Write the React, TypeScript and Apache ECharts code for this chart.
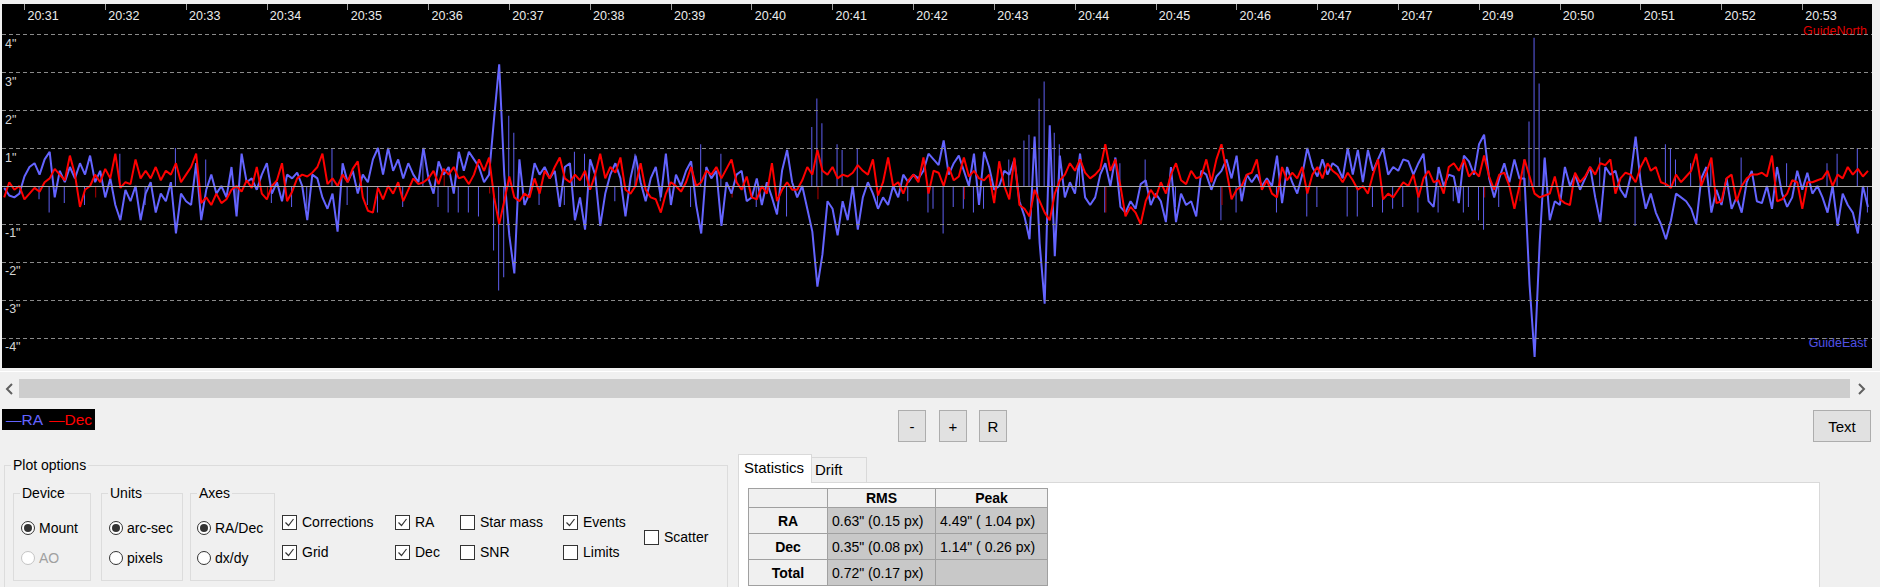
import * as echarts from "echarts";
import { useEffect, useRef } from "react";

const font = '"Liberation Sans", Arial, sans-serif';

// time labels along the top of the graph (PHD2 puts one every 16 samples)
const timeLabels = [
  "20:31", "20:32", "20:33", "20:34", "20:35", "20:36", "20:37", "20:38",
  "20:39", "20:40", "20:41", "20:42", "20:43", "20:44", "20:45", "20:46",
  "20:47", "20:47", "20:49", "20:50", "20:51", "20:52", "20:53",
];
const firstLabelSample = 4;
const samplesPerLabel = 16;

// dashed grid lines, arc-sec
const gridArcsec = [4, 3, 2, 1, -1, -2, -3, -4];

// RA offsets (arc-sec), one value per sample
const raPart1 = [
  -0.05, -0.25, -0.3, -0.2, 0.25, 0.5, 0.6, 0.3, 0.7, 0.9,
  -0.3, 0.4, 0.1, 0.5, 0.2, 0.6, 0.3, 0.8, 0.1, 0.4,
  -0.3, 0.2, -0.5, -0.9, -0.1, -0.4, 0.0, -0.9, -0.2, 0.1,
  -0.7, -0.2, -0.4, 0.1, -1.25, -0.2, -0.4, -0.5, 0.6, -0.9,
  -0.1, 0.3, -0.2, 0.0, -0.3, 0.5, -0.8, 0.85, 0.1, 0.2,
  -0.1, 0.3, 0.6, -0.2, 0.1, -0.4, 0.3, 0.2, 0.35, 0.0,
  -0.9, 0.3, 0.2, -0.3, -0.6, -0.2, -1.2, 0.6, 0.1, 0.4,
  -0.2, 0.3, 0.1, 0.7, 1.0, 0.3, 1.0, 0.4, 0.7, 0.2,
  0.6, 0.3, 0.1, 1.0, 0.2, -0.2, 0.65, 0.3, 0.5, -0.2,
  0.9, 0.4, 0.9,
];
const raPart2 = [
  0.7, 0.5, 0.1, 0.3, 1.8, 3.2, 0.3, -1.3, -2.3, 0.7,
  -0.5, -0.2, 0.6, 0.3, 0.5, 0.2, 0.4, -0.55, 0.5, 0.6,
  -0.9, -0.3, -1.15, 0.7, 0.3, -1.05, -0.2, 0.3, 0.6, 0.2,
  -0.8, 0.2, 0.8, 0.1, -0.4, 0.2, 0.5, -0.3, 0.85, -0.5,
  0.3, 0.0, 0.4, 0.65, -0.5, -1.25, 0.5, 0.2, 0.4, -1.05,
  0.1, -0.2, 0.3, 0.4, -0.4, -0.3, 0.2, -0.5, 0.1, -0.3,
  -0.75, 0.4, 0.95, 0.1, -0.3, 0.0, -0.6, -1.2, -2.65, -1.8,
  -0.4, -0.6, -1.3, -0.4, -0.9, 0.0, -1.15, -0.3, 0.1, -0.2,
  -0.6, -0.3, -0.5, 0.0, -0.3, 0.3, 0.1, 0.3, 0.2, 0.4,
  0.85, 0.7, 0.55,
];
const raPart3 = [
  1.2, 0.3, 0.6, 0.8, 0.4, 0.0, 0.85, -0.5, 0.9, 0.5,
  -0.1, 0.0, 0.4, 0.3, 0.7, -0.4, -0.8, -1.4, 1.3, -1.5,
  -3.1, 1.6, -1.85, 0.8, -0.3, 0.1, -0.2, 0.85, -0.3, -0.5,
  -0.3, 0.3, 0.6, 0.0, 0.75, -0.55, -0.7, -0.4, -0.6, 0.05,
  0.15, -0.5, -0.2, -0.4, -0.95, 0.5, -0.95, -0.2, -0.5, -0.4,
  -0.8, 0.4, 0.3, -0.1, 0.25, 0.4, 0.7, 0.2, 0.8, -0.4,
  0.3, 0.1, 0.3, 0.0, 0.2, 0.0, 0.8, -0.45, 0.5, 0.1,
  -0.2, 0.3, 1.0, 0.5, 0.25, 0.7, 0.3, 0.6, 0.5, 0.2,
  1.0, 0.3, 0.95, 0.1, 0.95, 0.4, 0.7, 1.0, 0.3, 0.5,
  0.4, 0.7, 0.65,
];
const raPart4 = [
  0.3, 0.6, 0.85, -0.4, -0.55, 0.5, 0.0, 0.3, 0.25, -0.45,
  0.8, 0.65, 0.3, 1.1, 1.35, 0.2, -0.3, 0.2, 0.6, 0.1,
  0.7, 0.2, 0.2, -2.6, -4.5, -1.5, 0.75, -0.9, -0.4, -0.5,
  0.5, 0.0, 0.3, -0.1, 0.2, 0.5, -0.3, -0.95, 0.5, 0.3,
  0.4, -0.1, -0.3, 0.25, 1.3, 0.1, -0.6, -0.2, -0.7, -1.0,
  -1.4, -0.9, -0.2, -0.3, -0.4, -0.6, -1.0, 0.2, 0.5, -0.7,
  -0.1, -0.5, 0.2, -0.6, -0.3, -0.7, 0.1, 0.4, -0.4, -0.45,
  0.0, -0.6, 0.5, -0.2, -0.55, -0.3, 0.4, -0.1, 0.35, -0.2,
  0.0, -0.3, -0.7, 0.0, -1.05, -0.2, -0.5, -0.7, -1.25, 0.0,
  -0.55,
];

// Dec offsets (arc-sec)
const decPart1 = [
  -0.3, 0.1, -0.1, 0.0, -0.35, -0.2, -0.05, -0.15, 0.1, 0.2,
  0.45, 0.3, 0.15, 0.8, 0.3, -0.55, -0.1, 0.0, 0.3, 0.1,
  0.45, 0.2, 0.85, -0.05, 0.1, 0.05, 0.7, 0.2, 0.4, 0.2,
  0.5, 0.15, 0.4, 0.3, 0.6, 0.1, 0.3, 0.5, 0.85, -0.45,
  -0.3, -0.5, -0.2, -0.45, -0.35, -0.1, 0.0, -0.15, 0.15, -0.05,
  0.5, -0.2, -0.35, 0.0, 0.15, 0.6, -0.4, -0.15, 0.2, 0.3,
  0.25, 0.35, 0.5, 0.85, 0.05, 0.2, 0.0, 0.3, 0.1, 0.45,
  0.65, -0.3, -0.65, -0.7, -0.05, -0.35, 0.0, -0.2, 0.1, -0.4,
  -0.1, 0.2, 0.05, 0.1, 0.2, 0.4, 0.05, 0.45, 0.3, 0.5,
  0.2, 0.25, 0.05,
];
const decPart2 = [
  0.3, 0.7, 0.4, 0.75, -0.3, -1.0, -0.4, 0.25, -0.3, -0.4,
  -0.2, -0.3, 0.2, -0.2, 0.4, 0.2, 0.5, 0.75, 0.2, 0.1,
  0.3, 0.15, 0.4, -0.1, 0.3, 0.85, 0.2, 0.5, 0.35, 0.75,
  -0.1, -0.2, 0.0, 0.6, -0.1, -0.3, -0.35, -0.7, -0.2, 0.1,
  0.0, -0.15, 0.1, 0.5, 0.0, 0.1, 0.4, 0.3, 0.5, 0.2,
  0.45, 0.7, 0.1, -0.1, 0.25, -0.3, -0.35, 0.0, -0.2, 0.6,
  -0.4, -0.1, 0.1, -0.1, -0.1, 0.15, 0.5, 0.3, 0.95, 0.4,
  0.3, 0.5, 0.2, 0.3, 0.25, 0.35, 0.55, 0.4, 0.3, 0.7,
  -0.25, 0.1, 0.75, 0.0, 0.1, -0.2, 0.15, 0.3, 0.1, 0.75,
  -0.2, 0.4, 0.35,
];
const decPart3 = [
  0.0, 0.5, 0.15, 0.25, 0.75, 0.25, 0.4, 0.2, 0.15, 0.3,
  -0.45, 0.65, 0.0, -0.35, 0.75, -0.5, -0.6, -0.8, -0.1, -0.4,
  -0.7, -0.9, -0.2, 0.15, 0.3, 0.6, 0.4, 0.7, 0.35, 0.2,
  0.3, 0.45, 1.1, 0.4, 0.7, 0.0, -0.8, -0.55, -0.7, -1.0,
  -0.4, -0.1, -0.3, 0.1, -0.2, 0.3, 0.6, 0.15, 0.05, 0.4,
  0.2, 0.25, 0.7, 0.1, 0.7, 1.1, 0.4, -0.35, -0.1, 0.0,
  0.3, 0.35, 0.7, -0.1, 0.15, -0.2, -0.3, 0.5, 0.15, 0.35,
  0.2, 0.5, -0.2, 0.3, 0.5, 0.2, 0.6, 0.4, 0.3, 0.1,
  0.35, 0.15, -0.1, 0.0, -0.2, 0.3, 0.7, -0.35, -0.2, -0.3,
  -0.1, 0.1, 0.0,
];
const decPart4 = [
  0.3, -0.3, 0.2, 0.4, 0.1, 0.15, -0.2, 0.5, 0.6, 0.4,
  0.7, 0.25, 0.4, 0.25, 0.8, 0.25, -0.1, 0.3, 0.35, 0.0,
  -0.6, 0.0, 0.7, 0.25, -0.2, -0.3, -0.25, -0.2, 0.25, -0.35,
  -0.45, -0.5, 0.35, 0.1, 0.25, 0.5, 0.3, 0.6, 0.55, 0.7,
  -0.2, 0.2, 0.35, 0.3, 0.1, 0.5, 0.75, 0.4, 0.5, 0.1,
  0.05, -0.05, 0.3, 0.1, 0.25, 0.4, 0.85, 0.0, 0.35, 0.75,
  -0.45, -0.4, 0.2, 0.3, -0.4, 0.0, 0.2, 0.3, 0.3, 0.35,
  0.25, 0.8, -0.4, -0.35, -0.2, 0.15, 0.1, -0.6, 0.1, 0.1,
  0.15, 0.2, 0.4, 0.0, 0.3, 0.2, 0.5, 0.3, 0.45, 0.25,
  0.4,
];

// guide pulses drawn as thin bars: [sample, arc-sec]
const raPulses = [
  [7, -0.35], [9, -0.7], [12, -0.45], [16, -0.5], [23, 0.85], [28, -0.5], [34, 1.0], [40, 0.7],
  [46, -0.5], [53, -0.45], [57, -0.55], [60, -0.6], [65, 1.0], [68, -0.5], [72, -0.5], [74, -0.7],
  [79, -0.55], [83, 1.0], [86, -0.55], [88, -0.7], [90, -0.7], [92, -0.7],
  [94, -0.8], [97, -1.7], [98, -2.75], [99, -2.4], [100, 1.85], [101, 1.4], [106, -0.5], [111, -0.5],
  [113, 0.9], [115, 0.85], [121, -0.4], [125, 0.85], [130, -0.4], [136, -0.55], [138, 1.1], [142, 0.85],
  [149, -0.55], [155, -0.8], [160, 1.55], [161, 2.3], [162, 1.65], [165, 1.1], [166, 0.95], [169, 1.0],
  [173, -0.55], [179, -0.4], [183, -0.7], [184, -0.6],
  [186, -1.25], [188, -0.55], [190, -0.6], [192, -0.7], [194, -0.6], [199, 0.7], [202, 1.2], [203, 1.35],
  [205, 2.3], [206, 2.75], [207, 1.0], [208, 1.4], [209, 1.1], [213, 0.85], [218, -0.7], [221, 0.6],
  [226, 0.7], [232, -0.55], [241, -0.9], [244, -0.7], [252, -0.7], [258, -0.8], [260, -0.55], [266, -0.8],
  [268, -0.8], [271, -0.55], [273, -0.7], [275, -0.6], [277, -0.55],
  [280, -0.7], [284, -0.7], [287, -0.4], [288, -0.45], [289, -0.7], [290, -0.55], [292, -0.9], [293, -1.15],
  [296, -0.55], [301, 0.7], [302, 1.7], [303, 3.9], [304, 2.7], [305, 0.7], [316, 0.75], [323, -1.05],
  [329, 1.1], [330, 1.0], [331, 0.7], [334, 0.6], [338, 0.7], [344, 0.75], [353, 0.6], [361, 0.6],
  [363, 0.85], [367, 1.0], [369, -0.7],
];
const decPulses = [
  [18, -0.3], [52, -0.25], [87, 0.3], [96, -0.2], [144, -0.3], [161, -0.35], [190, -0.35],
  [218, -0.7], [241, -0.5], [293, -0.3], [300, -0.4],
];

// statistics table
const statRows = [
  { name: "RA", rms: '0.63" (0.15 px)', peak: '4.49" ( 1.04 px)' },
  { name: "Dec", rms: '0.35" (0.08 px)', peak: '1.14" ( 0.26 px)' },
  { name: "Total", rms: '0.72" (0.17 px)', peak: "" },
];

const raValues = [...raPart1, ...raPart2, ...raPart3, ...raPart4];
const decValues = [...decPart1, ...decPart2, ...decPart3, ...decPart4];

function GuideChart() {
  const chartRef = useRef<HTMLDivElement>(null);

  useEffect(() => {
    const chart = echarts.init(chartRef.current, null, { renderer: "svg" });
    const tickSamples = timeLabels.map((_, k) => firstLabelSample + k * samplesPerLabel);
    const xMin = -0.44;
    const xMax = 369.8;

    const option = {
      animation: false,
      backgroundColor: "#000000",
      textStyle: { fontFamily: font },
      grid: { left: 0, right: 0, top: 0, bottom: 0 },
      xAxis: [
        { type: "value", min: xMin, max: xMax, show: false },
        {
          type: "value",
          position: "top",
          min: xMin,
          max: xMax,
          axisLine: { show: false },
          splitLine: { show: false },
          axisTick: {
            show: true,
            inside: true,
            length: 6,
            customValues: tickSamples,
            lineStyle: { color: "#a0a0a0", width: 1 },
          },
          axisLabel: {
            show: true,
            inside: true,
            customValues: tickSamples,
            formatter: (v: number) =>
              timeLabels[Math.round((v - firstLabelSample) / samplesPerLabel)] ?? "",
            color: "#ececec",
            fontSize: 12.5,
            fontFamily: font,
            align: "left",
            margin: 5,
            padding: [0, 0, 0, 3],
          },
        },
      ],
      yAxis: { type: "value", min: -4.79, max: 4.79, show: false },
      graphic: [
        {
          type: "text",
          right: 5,
          top: 20,
          style: { text: "GuideNorth", fill: "#e00000", font: `12.5px ${font}` },
        },
        {
          type: "text",
          right: 5,
          top: 332,
          style: { text: "GuideEast", fill: "#5050e6", font: `12.5px ${font}` },
        },
      ],
      series: [
        {
          type: "bar",
          name: "RA pulses",
          barWidth: 1,
          silent: true,
          z: 1,
          itemStyle: { color: "#5e5ef0" },
          data: raPulses,
          markLine: {
            silent: true,
            symbol: "none",
            animation: false,
            label: {
              show: true,
              position: "insideStartBottom",
              formatter: (p: any) => `${p.value}"`,
              color: "#d4d4d4",
              fontSize: 12.5,
              fontFamily: font,
              distance: 3,
            },
            data: [
              ...gridArcsec.map((v) => ({
                yAxis: v,
                lineStyle: { type: [4, 3], color: "#8a8a8a", width: 1 },
              })),
              {
                yAxis: 0,
                lineStyle: { type: "solid", color: "#a8a8a8", width: 1 },
                label: { show: false },
              },
            ],
          },
        },
        {
          type: "bar",
          name: "Dec pulses",
          barWidth: 1,
          silent: true,
          z: 1,
          itemStyle: { color: "#b00000" },
          data: decPulses,
        },
        {
          type: "line",
          name: "RA",
          z: 2,
          showSymbol: false,
          silent: true,
          lineStyle: { color: "#6464ff", width: 2 },
          data: raValues.map((v, i) => [i, v]),
        },
        {
          type: "line",
          name: "Dec",
          z: 3,
          showSymbol: false,
          silent: true,
          lineStyle: { color: "#ff0000", width: 2 },
          data: decValues.map((v, i) => [i, v]),
        },
      ],
    };

    chart.setOption(option as any);
    return () => chart.dispose();
  }, []);

  return (
    <div
      ref={chartRef}
      style={{ position: "absolute", left: 2, top: 4, width: 1870, height: 364 }}
    ></div>
  );
}

const abs = (left: number, top: number, extra: any = {}) => ({
  position: "absolute" as const,
  left,
  top,
  ...extra,
});

function Button({ x, y, w, h, label }: { x: number; y: number; w: number; h: number; label: string }) {
  return (
    <div
      style={abs(x, y, {
        width: w,
        height: h,
        boxSizing: "border-box",
        background: "#e1e1e1",
        border: "1px solid #adadad",
        display: "flex",
        alignItems: "center",
        justifyContent: "center",
        fontSize: 15,
      })}
    >
      {label}
    </div>
  );
}

function Radio({ x, y, label, checked, disabled }: { x: number; y: number; label: string; checked?: boolean; disabled?: boolean }) {
  const edge = disabled ? "#c4c4c4" : "#333333";
  return (
    <div style={abs(x - 7, y - 9, { display: "flex", alignItems: "center", height: 18 })}>
      <div
        style={{
          width: 14,
          height: 14,
          boxSizing: "border-box",
          borderRadius: "50%",
          border: `1px solid ${edge}`,
          background: "#ffffff",
          display: "flex",
          alignItems: "center",
          justifyContent: "center",
        }}
      >
        {checked && <div style={{ width: 8, height: 8, borderRadius: "50%", background: "#333333" }} />}
      </div>
      <span style={{ marginLeft: 4, color: disabled ? "#a0a0a0" : "#000000" }}>{label}</span>
    </div>
  );
}

function Check({ x, y, label, checked }: { x: number; y: number; label: string; checked?: boolean }) {
  return (
    <div style={abs(x, y - 9, { display: "flex", alignItems: "center", height: 18 })}>
      <div
        style={{
          width: 15,
          height: 15,
          boxSizing: "border-box",
          border: "1px solid #333333",
          background: "#ffffff",
        }}
      >
        {checked && (
          <svg width="13" height="13" style={{ display: "block" }}>
            <polyline points="2.5,6.5 5.5,9.5 10.5,3" fill="none" stroke="#333333" strokeWidth="1.2" />
          </svg>
        )}
      </div>
      <span style={{ marginLeft: 5 }}>{label}</span>
    </div>
  );
}

function GroupBox({ x, y, w, h, label }: { x: number; y: number; w: number; h: number; label: string }) {
  return (
    <>
      <div
        style={abs(x, y, {
          width: w,
          height: h,
          boxSizing: "border-box",
          border: "1px solid #dcdcdc",
        })}
      />
      <div style={abs(x + 7, y - 9, { background: "#f0f0f0", padding: "0 2px", lineHeight: "18px" })}>
        {label}
      </div>
    </>
  );
}

function StatsTable() {
  const colW = [79, 108, 112];
  const rowH = [19, 26, 26, 26];
  const cell = (w: number, h: number, bg: string, extra: any = {}) => ({
    width: w,
    height: h,
    boxSizing: "border-box" as const,
    background: bg,
    borderRight: "1px solid #a0a0a0",
    borderBottom: "1px solid #a0a0a0",
    display: "flex",
    alignItems: "center",
    ...extra,
  });
  return (
    <div style={abs(748, 488, { borderLeft: "1px solid #a0a0a0", borderTop: "1px solid #a0a0a0" })}>
      <div style={{ display: "flex" }}>
        <div style={cell(colW[0], rowH[0], "#f0f0f0")} />
        <div style={cell(colW[1], rowH[0], "#f0f0f0", { justifyContent: "center", fontWeight: "bold" })}>RMS</div>
        <div style={cell(colW[2], rowH[0], "#f0f0f0", { justifyContent: "center", fontWeight: "bold" })}>Peak</div>
      </div>
      {statRows.map((r, k) => (
        <div key={r.name} style={{ display: "flex" }}>
          <div style={cell(colW[0], rowH[k + 1], "#f0f0f0", { justifyContent: "center", fontWeight: "bold" })}>
            {r.name}
          </div>
          <div style={cell(colW[1], rowH[k + 1], "#c8c8c8", { paddingLeft: 4, whiteSpace: "nowrap" })}>{r.rms}</div>
          <div style={cell(colW[2], rowH[k + 1], "#c8c8c8", { paddingLeft: 4, whiteSpace: "nowrap" })}>{r.peak}</div>
        </div>
      ))}
    </div>
  );
}

export default function App() {
  return (
    <div
      style={{
        position: "absolute",
        left: 0,
        top: 0,
        width: 1880,
        height: 587,
        overflow: "hidden",
        background: "#f0f0f0",
        fontFamily: font,
        fontSize: 14,
        color: "#000000",
      }}
    >
      <GuideChart />
      <div style={abs(0, 371, { width: 1880, height: 1, background: "#ffffff" })} />

      {/* scroll bar */}
      <svg style={abs(4, 382)} width="12" height="14">
        <polyline points="8,2 3,7 8,12" fill="none" stroke="#606060" strokeWidth="2" />
      </svg>
      <div style={abs(19, 379, { width: 1831, height: 19, background: "#cdcdcd" })} />
      <svg style={abs(1856, 382)} width="12" height="14">
        <polyline points="3,2 8,7 3,12" fill="none" stroke="#606060" strokeWidth="2" />
      </svg>

      {/* legend */}
      <div
        style={abs(2, 409, {
          width: 93,
          height: 21,
          background: "#000000",
          display: "flex",
          alignItems: "center",
          fontSize: 15.5,
          whiteSpace: "nowrap",
        })}
      >
        <span style={{ color: "#6464ff", marginLeft: 4 }}>—RA</span>
        <span style={{ color: "#ff0000", marginLeft: 6 }}>—Dec</span>
      </div>

      <Button x={898} y={410} w={28} h={32} label="-" />
      <Button x={939} y={410} w={28} h={32} label="+" />
      <Button x={979} y={410} w={28} h={32} label="R" />
      <Button x={1813} y={410} w={58} h={32} label="Text" />

      {/* plot options */}
      <GroupBox x={4} y={465} w={724} h={140} label="Plot options" />
      <GroupBox x={13} y={493} w={78} h={88} label="Device" />
      <GroupBox x={101} y={493} w={82} h={88} label="Units" />
      <GroupBox x={190} y={493} w={85} h={88} label="Axes" />
      <Radio x={28} y={528} label="Mount" checked />
      <Radio x={28} y={558} label="AO" disabled />
      <Radio x={116} y={528} label="arc-sec" checked />
      <Radio x={116} y={558} label="pixels" />
      <Radio x={204} y={528} label="RA/Dec" checked />
      <Radio x={204} y={558} label="dx/dy" />
      <Check x={282} y={522} label="Corrections" checked />
      <Check x={282} y={552} label="Grid" checked />
      <Check x={395} y={522} label="RA" checked />
      <Check x={395} y={552} label="Dec" checked />
      <Check x={460} y={522} label="Star mass" />
      <Check x={460} y={552} label="SNR" />
      <Check x={563} y={522} label="Events" checked />
      <Check x={563} y={552} label="Limits" />
      <Check x={644} y={537} label="Scatter" />

      {/* statistics / drift tabs */}
      <div
        style={abs(738, 482, {
          width: 1082,
          height: 120,
          boxSizing: "border-box",
          background: "#ffffff",
          border: "1px solid #d9d9d9",
        })}
      />
      <div
        style={abs(811, 457, {
          width: 56,
          height: 26,
          boxSizing: "border-box",
          background: "#f0f0f0",
          border: "1px solid #d9d9d9",
          paddingLeft: 3,
          lineHeight: "24px",
          fontSize: 15,
        })}
      >
        Drift
      </div>
      <div
        style={abs(738, 454, {
          width: 74,
          height: 29,
          boxSizing: "border-box",
          background: "#ffffff",
          borderTop: "1px solid #d9d9d9",
          borderLeft: "1px solid #d9d9d9",
          borderRight: "1px solid #d9d9d9",
          paddingLeft: 5,
          lineHeight: "26px",
          fontSize: 15,
        })}
      >
        Statistics
      </div>
      <StatsTable />
    </div>
  );
}
